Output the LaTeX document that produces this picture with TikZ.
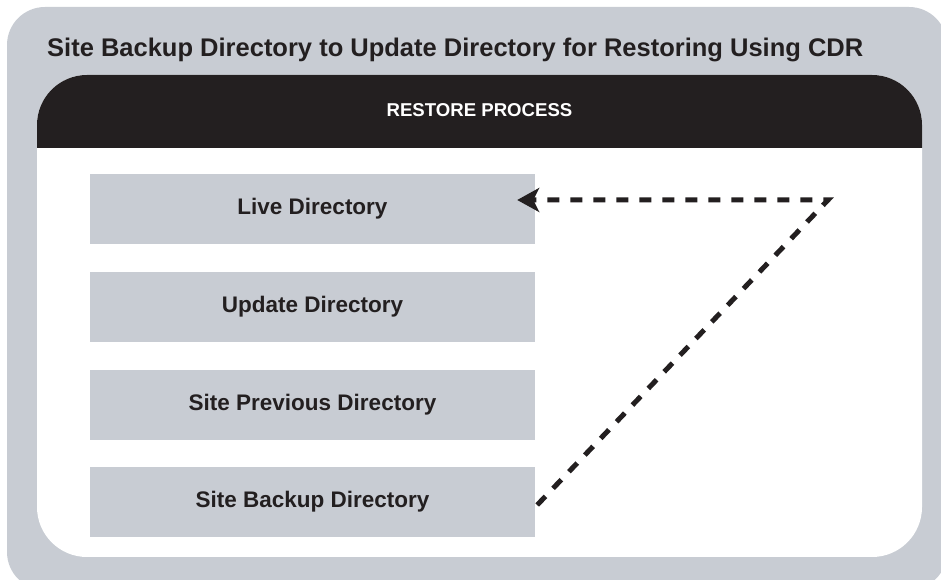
\documentclass[tikz,border=0pt]{standalone}
\usepackage{fontspec}
\setmainfont{Liberation Sans}
\usetikzlibrary{arrows.meta}
\definecolor{panelgray}{RGB}{200,204,211}
\definecolor{inkblack}{RGB}{35,31,32}
\tikzset{
  dirbox/.style={fill=panelgray, draw=none, minimum width=445pt, minimum height=70pt,
    inner sep=0pt, text=inkblack, font=\fontsize{22.5}{26}\selectfont\bfseries},
  flowline/.style={draw=inkblack, line width=5pt, dash pattern=on 12pt off 11pt},
}
\begin{document}
\begin{tikzpicture}[x=1pt,y=1pt]
\useasboundingbox (0,0) rectangle (941,580);
% outer panel
\fill[panelgray, rounded corners=38pt] (7,-10) rectangle (947,573);
% inner white panel
\fill[white, rounded corners=50pt] (37,23) rectangle (922,505);
% black header
\fill[inkblack] (37,432) -- (37,455) arc[start angle=180,end angle=90,radius=50]
  -- (872,505) arc[start angle=90,end angle=0,radius=50] -- (922,432) -- cycle;
% title
\node[anchor=base west, inner sep=0pt, text=inkblack, font=\fontsize{25.5}{30}\selectfont\bfseries]
  (title) at (47,523) {Site Backup Directory to Update Directory for Restoring Using CDR};
\node[anchor=base, inner sep=0pt, text=white, font=\fontsize{18.6}{22}\selectfont\bfseries]
  (header) at (479.5,463) {RESTORE PROCESS};
% directory boxes
\node[dirbox] (live) at (312.5,371) {Live Directory};
\node[dirbox] (update) at (312.5,273) {Update Directory};
\node[dirbox] (prev) at (312.5,175) {Site Previous Directory};
\node[dirbox] (backup) at (312.5,78) {Site Backup Directory};
% connector
\coordinate (corner) at (828,380);
\draw[flowline, -{Stealth[length=22pt,width=24pt,inset=6pt]}]
  ([xshift=2pt,yshift=-3pt]backup.east) -- (corner) -- ([xshift=-18pt,yshift=9pt]live.east);
\end{tikzpicture}
\end{document}
